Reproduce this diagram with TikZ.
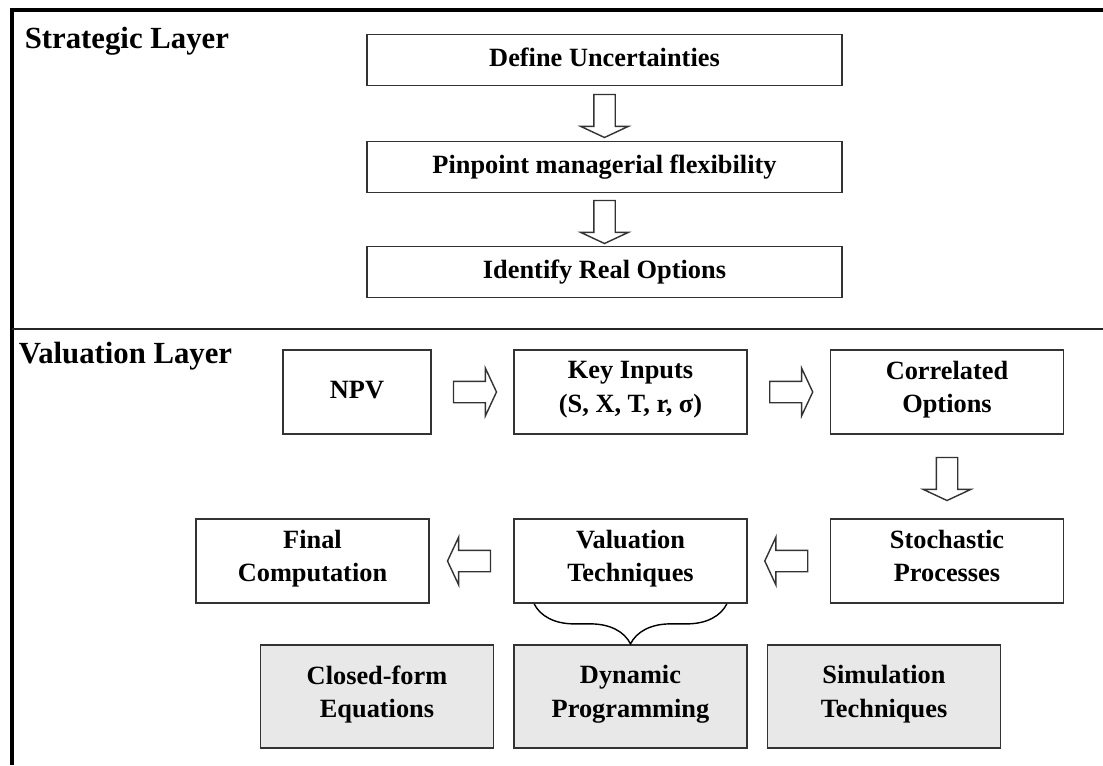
\documentclass[tikz,border=0pt]{standalone}
\usepackage{fontspec}
\setmainfont{Liberation Serif}
\usetikzlibrary{shapes.arrows,decorations.pathreplacing,calc}

\begin{document}
\begin{tikzpicture}[x=0.02cm,y=-0.02cm,line width=1pt,
stepbox/.style={draw=black!80,rectangle,inner sep=2pt,align=center,minimum height=1.02cm,minimum width=9.5cm,font=\fontsize{15}{19}\selectfont\bfseries,
  execute at begin node=\strut,execute at end node=\strut},
valbox/.style={stepbox,minimum height=1.68cm,minimum width=4.66cm},
techbox/.style={valbox,fill=black!9,minimum height=2.06cm},
harrow/.style={draw=black!80,single arrow,inner xsep=0pt,inner ysep=0.2cm,minimum height=0.86cm,single arrow head extend=0.26cm,single arrow tip angle=130,line width=0.8pt},
layer/.style={anchor=base west,inner sep=0pt,font=\fontsize{17.5}{21}\selectfont\bfseries}]
\useasboundingbox (0,0) rectangle (1103,765);
% frame and layers
\draw[line width=1.8pt] (1103,10) -- (12,10) -- (12,765);
\draw[line width=1.2pt,black!85] (12,329) -- (1103,329);
\node[layer] (sl) at (24,48) {Strategic Layer};
\node[layer] (vl) at (18,363) {Valuation Layer};
% strategic layer
\node[stepbox] (du) at (604.5,60) {Define Uncertainties};
\node[stepbox] (pf) at (604.5,167) {Pinpoint managerial\ flexibility};
\node[stepbox] (ro) at (604.5,272) {Identify Real Options};
\node[harrow,rotate=-90] (a1) at ($(du.south)!0.5!(pf.north)$) {};
\node[harrow,rotate=-90] (a2) at ($(pf.south)!0.5!(ro.north)$) {};
% valuation layer
\node[valbox,minimum width=2.96cm] (npv) at (357,392) {NPV};
\node[valbox] (ki) at (630.5,392) {Key Inputs\\(S, X, T, r, σ)};
\node[valbox] (co) at (947,392) {Correlated\\Options};
\node[valbox] (sp) at (947,561) {Stochastic\\Processes};
\node[valbox] (vt) at (630.5,561) {Valuation\\Techniques};
\node[valbox] (fc) at (312.5,561) {Final\\Computation};
\node[harrow] (a3) at ($(npv.east)!0.5!(ki.west)$) {};
\node[harrow] (a4) at ($(ki.east)!0.5!(co.west)$) {};
\node[harrow,rotate=-90] (a5) at ($(co.south)!0.5!(sp.north)$) {};
\node[harrow,rotate=180] (a6) at ($(sp.west)!0.5!(vt.east)$) {};
\node[harrow,rotate=180] (a7) at ($(vt.west)!0.5!(fc.east)$) {};
% techniques
\node[techbox] (cf) at (377,696.5) {Closed-form\\Equations};
\node[techbox] (dp) at (630.5,696.5) {Dynamic\\Programming};
\node[techbox] (st) at (884,696.5) {Simulation\\Techniques};
\draw[decorate,decoration={brace,mirror,amplitude=0.8cm},line width=0.8pt]
  ($(vt.south west)+(21,0)$) -- ($(vt.south east)+(-21,0)$);
\end{tikzpicture}
\end{document}
